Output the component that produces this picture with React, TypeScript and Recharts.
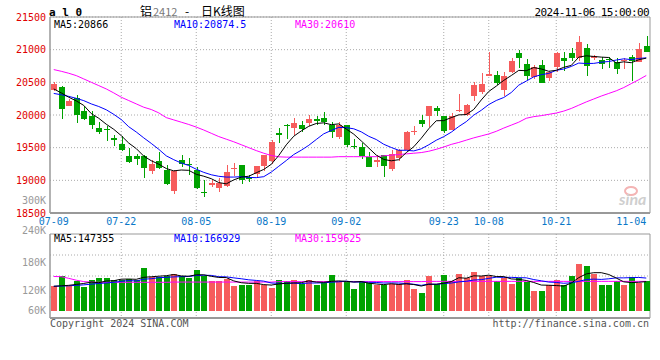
import {
  ComposedChart,
  Bar,
  Line,
  XAxis,
  YAxis,
  CartesianGrid,
  ReferenceArea,
  ReferenceLine,
} from 'recharts';

// trading days (MM-DD), 2024-07-09 .. 2024-11-06
const dates = [
  '07-09', '07-10', '07-11', '07-12', '07-15', '07-16', '07-17', '07-18', '07-19', '07-22',
  '07-23', '07-24', '07-25', '07-26', '07-29', '07-30', '07-31', '08-01', '08-02', '08-05',
  '08-06', '08-07', '08-08', '08-09', '08-12', '08-13', '08-14', '08-15', '08-16', '08-19',
  '08-20', '08-21', '08-22', '08-23', '08-26', '08-27', '08-28', '08-29', '08-30', '09-02',
  '09-03', '09-04', '09-05', '09-06', '09-09', '09-10', '09-11', '09-12', '09-13', '09-18',
  '09-19', '09-20', '09-23', '09-24', '09-25', '09-26', '09-27', '09-30', '10-08', '10-09',
  '10-10', '10-11', '10-14', '10-15', '10-16', '10-17', '10-18', '10-21', '10-22', '10-23',
  '10-24', '10-25', '10-28', '10-29', '10-30', '10-31', '11-01', '11-04', '11-05', '11-06',
];
const dateLabels = ['07-09', '07-22', '08-05', '08-19', '09-02', '09-23', '10-08', '10-21', '11-04'];
const gridDates = ['07-22', '08-05', '08-19', '09-02', '09-23', '10-08', '10-21'];

const opens = [
  20380, 20435, 20145, 20262, 20058, 19992, 19804, 19789, 19646, 19560,
  19366, 19366, 19366, 19142, 19295, 19152, 18832, 19305, 19254, 19152,
  18822, 18933, 18888, 18908, 19178, 19229, 19051, 19101, 19213, 19290,
  19727, 19850, 19799, 19850, 19880, 19941, 19956, 19850, 19656, 19850,
  19524, 19509, 19356, 19280, 19381, 19178, 19341, 19458, 19748, 19916,
  19992, 20109, 19992, 19778, 20068, 20002, 20287, 20348, 20603, 20613,
  20389, 20654, 20949, 20781, 20578, 20766, 20562, 20741, 20868, 20949,
  20868, 21020, 20873, 20847, 20857, 20806, 20822, 20883, 20806, 21051,
];
const highs = [
  20500, 20450, 20250, 20308, 20135, 20068, 19890, 19829, 19697, 19677,
  19493, 19407, 19392, 19305, 19432, 19229, 19152, 19392, 19341, 19203,
  19000, 19000, 19035, 19239, 19264, 19229, 19086, 19224, 19392, 19610,
  19799, 19865, 19951, 19901, 20002, 19992, 20043, 19890, 19890, 19850,
  19626, 19575, 19432, 19392, 19381, 19458, 19480, 19758, 19829, 20002,
  20135, 20135, 19992, 20028, 20323, 20170, 20501, 20644, 20959, 20679,
  20664, 20868, 20995, 20857, 20766, 20842, 20679, 20959, 20959, 21020,
  21203, 21087, 20919, 20883, 20883, 20868, 20868, 20919, 21102, 21214,
];
const lows = [
  20370, 19941, 20140, 19880, 19931, 19789, 19712, 19600, 19519, 19453,
  19269, 19229, 19035, 19091, 19178, 18923, 18786, 19203, 19076, 18872,
  18745, 18898, 18822, 18898, 19066, 18939, 18974, 19035, 19142, 19254,
  19575, 19636, 19697, 19738, 19829, 19850, 19850, 19646, 19626, 19509,
  19483, 19320, 19198, 19203, 19051, 19142, 19300, 19458, 19697, 19814,
  19814, 19992, 19728, 19778, 20053, 19992, 20221, 20318, 20593, 20460,
  20298, 20644, 20720, 20542, 20552, 20486, 20527, 20654, 20679, 20832,
  20832, 20603, 20847, 20705, 20715, 20628, 20705, 20527, 20806, 20959,
];
const closes = [
  20476, 20094, 20221, 20002, 19941, 19850, 19738, 19763, 19611, 19458,
  19280, 19320, 19188, 19254, 19193, 18949, 19142, 19254, 19229, 18888,
  18801, 18954, 18959, 19127, 19193, 19010, 19025, 19224, 19381, 19585,
  19687, 19840, 19880, 19789, 19941, 19901, 19890, 19738, 19850, 19544,
  19514, 19371, 19198, 19305, 19213, 19407, 19458, 19738, 19753, 19865,
  20135, 20068, 19748, 19982, 20079, 20155, 20460, 20476, 20628, 20491,
  20593, 20832, 20873, 20603, 20730, 20486, 20654, 20949, 20832, 20873,
  21122, 20756, 20898, 20781, 20842, 20705, 20842, 20832, 21010, 20959,
];
const ma5 = [
  20399, 20338, 20272, 20216, 20147, 20022, 19950, 19859, 19781, 19684,
  19570, 19486, 19371, 19300, 19247, 19181, 19145, 19158, 19153, 19092,
  19063, 19025, 18966, 18946, 19007, 19049, 19063, 19116, 19167, 19245,
  19380, 19543, 19675, 19756, 19827, 19870, 19880, 19852, 19864, 19785,
  19707, 19603, 19495, 19386, 19320, 19299, 19316, 19424, 19514, 19644,
  19790, 19912, 19914, 19960, 20002, 20006, 20085, 20230, 20360, 20442,
  20530, 20604, 20683, 20678, 20726, 20705, 20669, 20684, 20730, 20759,
  20886, 20906, 20896, 20886, 20880, 20796, 20814, 20800, 20846, 20870,
];
const ma10 = [
  20330, 20310, 20285, 20255, 20220, 20170, 20130, 20080, 20010, 19930,
  19820, 19740, 19650, 19565, 19475, 19375, 19316, 19265, 19227, 19170,
  19122, 19085, 19062, 19050, 19050, 19056, 19044, 19041, 19056, 19126,
  19215, 19303, 19395, 19461, 19536, 19625, 19712, 19763, 19810, 19806,
  19789, 19742, 19674, 19625, 19552, 19503, 19460, 19460, 19450, 19482,
  19544, 19614, 19669, 19737, 19823, 19898, 19998, 20072, 20160, 20222,
  20268, 20344, 20457, 20519, 20584, 20617, 20637, 20684, 20704, 20743,
  20795, 20788, 20790, 20808, 20819, 20841, 20860, 20848, 20866, 20875,
];
const ma30 = [
  20695, 20669, 20639, 20603, 20552, 20501, 20450, 20399, 20338, 20272,
  20221, 20170, 20119, 20084, 20033, 19960, 19925, 19890, 19855, 19815,
  19770, 19720, 19670, 19630, 19590, 19545, 19500, 19455, 19415, 19380,
  19360, 19355, 19355, 19355, 19355, 19355, 19355, 19355, 19362, 19362,
  19362, 19362, 19362, 19362, 19375, 19385, 19395, 19405, 19415, 19425,
  19445, 19475, 19510, 19550, 19580, 19615, 19650, 19680, 19710, 19750,
  19800, 19845, 19890, 19950, 19975, 19990, 20010, 20030, 20060, 20100,
  20150, 20200, 20245, 20290, 20330, 20370, 20420, 20480, 20540, 20605,
];

const volumes = [
  127700, 150600, 127700, 138400, 125600, 142000, 144900, 144900, 142000, 142000,
  143600, 142000, 166300, 147900, 147900, 149200, 154900, 150600, 144900, 163500,
  149200, 138400, 138400, 143600, 127700, 129900, 131400, 138400, 129900, 123400,
  142000, 138400, 142000, 132900, 142000, 129900, 135000, 152800, 138000, 137000,
  122800, 140000, 135000, 129900, 129900, 132000, 132000, 142000, 122800, 113600,
  150600, 132900, 152800, 140000, 154900, 145700, 158500, 150600, 149200, 140000,
  145700, 133500, 145700, 137000, 118500, 118500, 131400, 142000, 131400, 150600,
  176400, 172100, 154900, 131400, 131400, 138400, 131400, 147000, 135000, 138400,
];
const volMa5 = [
  128000, 129000, 130000, 132000, 134000, 136900, 135700, 139200, 139900, 143200,
  143500, 142900, 147200, 148400, 149500, 150700, 153200, 150100, 149500, 152600,
  152600, 149300, 146900, 146600, 139500, 135600, 134200, 134200, 131500, 130600,
  133000, 134400, 135100, 135700, 139500, 137000, 136400, 138500, 139500, 138500,
  137100, 138100, 134600, 132900, 131500, 133400, 131800, 133200, 131700, 128500,
  132200, 132400, 134500, 138000, 146200, 145300, 150400, 149900, 151800, 148800,
  148800, 143800, 142800, 140400, 136100, 130600, 130200, 129500, 128400, 134800,
  146400, 154500, 157100, 157100, 153200, 145600, 137500, 135900, 136600, 138000,
];
const volMa10 = [
  128000, 128500, 129000, 130000, 131000, 132500, 134000, 135000, 136500, 138600,
  140200, 139300, 143200, 144100, 146400, 147100, 148100, 148600, 148900, 151100,
  151600, 151300, 148500, 148100, 146000, 144100, 141800, 140500, 139000, 135000,
  134300, 134300, 134700, 133600, 135000, 135000, 135400, 136800, 137600, 139000,
  137100, 137200, 136500, 136200, 135000, 135200, 134900, 133900, 132300, 130000,
  132800, 132100, 133900, 134900, 137400, 138700, 141400, 142200, 144900, 147500,
  147000, 147100, 146400, 146100, 142400, 139700, 137000, 136200, 134400, 135400,
  138500, 142400, 143300, 142700, 144000, 146000, 146000, 146500, 146900, 145600,
];
const volMa30 = [
  149000, 148500, 145000, 141000, 138000, 137000, 136500, 136500, 136500, 136500,
  136500, 136500, 136500, 136500, 136500, 136500, 137000, 137000, 137000, 137000,
  137000, 137000, 137000, 137000, 137000, 137000, 137000, 137000, 137000, 137000,
  138000, 138000, 138000, 138000, 138000, 138000, 138000, 138000, 138000, 138000,
  138000, 138000, 138000, 138000, 138000, 138000, 138000, 138000, 138000, 138000,
  138500, 138500, 138500, 138500, 138500, 138500, 138500, 138500, 138500, 138500,
  138500, 138500, 138500, 138500, 138500, 138500, 138500, 138500, 138500, 138500,
  138500, 138500, 138500, 138500, 138500, 138500, 138500, 138500, 138500, 138500,
];

const priceTicks = [18500, 19000, 19500, 20000, 20500, 21000, 21500];
const volTicks = [60000, 120000, 180000, 240000];
const volGridValues = [105000, 150000, 195000];
const VOL_BASE = 75000;

const priceLegend = [
  { name: 'MA5', value: '20866', color: '#000000' },
  { name: 'MA10', value: '20874.5', color: '#0000ff' },
  { name: 'MA30', value: '20610', color: '#ff00ff' },
];
const volLegend = [
  { name: 'MA5', value: '147355', color: '#000000' },
  { name: 'MA10', value: '166929', color: '#0000ff' },
  { name: 'MA30', value: '159625', color: '#ff00ff' },
];
const legendX = [54, 174, 295];

const RED = '#f65c5c';
const GREEN = '#00a200';
const GRID = '#aaaaaa';
const FRAME = '#999999';
const MONO = '"DejaVu Sans Mono", "Liberation Mono", monospace';

const data = dates.map((date, i) => ({
  date,
  open: opens[i],
  high: highs[i],
  low: lows[i],
  close: closes[i],
  ma5: ma5[i],
  ma10: ma10[i],
  ma30: ma30[i],
  vol: volumes[i],
  volMa5: volMa5[i],
  volMa10: volMa10[i],
  volMa30: volMa30[i],
}));

function Candle(props: any) {
  const { x, y, width, height, payload } = props;
  if (x == null || payload == null) return null;
  const color = payload.close >= payload.open ? RED : GREEN;
  const top = Math.min(y, y + height);
  const h = Math.abs(height);
  const span = payload.high - payload.low || 1;
  const py = (v: number) => top + ((payload.high - v) / span) * h;
  const bx = Math.round(x);
  const bw = Math.round(width);
  const bodyTop = Math.round(py(Math.max(payload.open, payload.close)));
  const bodyBot = Math.round(py(Math.min(payload.open, payload.close)));
  const wx = bx + Math.floor(bw / 2) + 0.5;
  return (
    <g>
      <line x1={wx} x2={wx} y1={Math.round(top)} y2={Math.round(top + h)} stroke={color} strokeWidth={1} />
      <rect x={bx} y={bodyTop} width={bw} height={Math.max(1, bodyBot - bodyTop)} fill={color} />
    </g>
  );
}

function VolBar(props: any) {
  const { x, y, width, height, payload } = props;
  if (x == null || payload == null) return null;
  const color = payload.close >= payload.open ? RED : GREEN;
  const top = Math.round(Math.min(y, y + height));
  const bot = Math.round(Math.max(y, y + height));
  return <rect x={Math.round(x)} y={top} width={Math.round(width)} height={bot - top} fill={color} />;
}

function VolTick(props: any) {
  const { x, y, payload } = props;
  const v = payload.value;
  const shift = v === volTicks[volTicks.length - 1] ? -3.5 : v === volTicks[0] ? -7.5 : 0;
  return (
    <text x={x} y={y + shift} dy="0.36em" textAnchor="end" fill="#999999" fontSize={10} fontFamily={MONO}>
      {`${v / 1000}K`}
    </text>
  );
}

const lineProps = {
  type: 'linear' as const,
  strokeWidth: 1,
  dot: false,
  activeDot: false,
  isAnimationActive: false,
};

export default function App() {
  return (
    <div style={{ position: 'absolute', left: 0, top: 0, width: 660, height: 360, background: '#fff' }}>
      <div style={{ position: 'absolute', left: 0, top: 0 }}>
        <ComposedChart width={660} height={230} data={data} margin={{ top: 17, right: 10, bottom: 0, left: 0 }} barSize={6}>
          <CartesianGrid verticalValues={gridDates} stroke={GRID} strokeDasharray="1 2" />
          <XAxis
            dataKey="date"
            ticks={dateLabels}
            interval={0}
            height={17}
            tickSize={0}
            tickMargin={5}
            axisLine={{ stroke: FRAME, strokeWidth: 2 }}
            tick={{ fill: '#0a78c8', fontSize: 10, fontFamily: MONO }}
          />
          <YAxis
            domain={[18500, 21500]}
            ticks={priceTicks}
            interval={0}
            width={50}
            tickSize={0}
            tickMargin={4}
            axisLine={{ stroke: FRAME }}
            tick={{ fill: '#e00000', fontSize: 10, fontFamily: MONO }}
          />
          <ReferenceArea y1={18500} y2={21500} fill="none" stroke={FRAME} strokeWidth={1} ifOverflow="visible" />
          <Bar dataKey={(d: any) => [d.low, d.high]} shape={(p: any) => <Candle {...p} />} isAnimationActive={false} />
          <Line dataKey="ma30" stroke="#ff00ff" {...lineProps} />
          <Line dataKey="ma10" stroke="#0000ff" {...lineProps} />
          <Line dataKey="ma5" stroke="#000000" {...lineProps} />
        </ComposedChart>
      </div>
      <div style={{ position: 'absolute', left: 0, top: 224 }}>
        <ComposedChart width={660} height={96} data={data} margin={{ top: 10, right: 10, bottom: 2, left: 0 }} barSize={6}>
          <CartesianGrid horizontalValues={volGridValues} verticalValues={gridDates} stroke={GRID} strokeDasharray="1 2" />
          <XAxis dataKey="date" hide />
          <YAxis
            domain={[60000, 240000]}
            ticks={volTicks}
            interval={0}
            width={50}
            tickSize={0}
            tickMargin={4}
            axisLine={{ stroke: FRAME }}
            tick={(p: any) => <VolTick {...p} />}
          />
          <ReferenceArea y1={60000} y2={240000} fill="none" stroke={FRAME} strokeWidth={1} ifOverflow="visible" />
          <ReferenceLine y={60000} stroke={FRAME} strokeWidth={2} />
          <Bar dataKey={(d: any) => [VOL_BASE, d.vol]} shape={(p: any) => <VolBar {...p} />} isAnimationActive={false} />
          <Line dataKey="volMa30" stroke="#ff00ff" {...lineProps} />
          <Line dataKey="volMa10" stroke="#0000ff" {...lineProps} />
          <Line dataKey="volMa5" stroke="#000000" {...lineProps} />
        </ComposedChart>
      </div>
      <svg width={660} height={360} style={{ position: 'absolute', left: 0, top: 0, pointerEvents: 'none' }}>
        <text x={49} y={15.5} fontSize={11} fontWeight="bold" fontFamily={MONO} fill="#000">a l 0</text>
        <text y={15.5} fontSize={12} fontFamily='"Noto Sans CJK SC", sans-serif'>
          <tspan x={140} fill="#000">铝</tspan>
          <tspan x={153} fill="#777" fontSize={11}>2412</tspan>
          <tspan x={185} fill="#000">-</tspan>
          <tspan x={201} fill="#000">日K线图</tspan>
        </text>
        <text x={649} y={15.5} fontSize={11} letterSpacing={-0.6} textAnchor="end" fontFamily={MONO} fill="#000">
          2024-11-06 15:00:00
        </text>
        {priceLegend.map((m, i) => (
          <text key={m.name} x={legendX[i]} y={27.5} fontSize={10} fontFamily={MONO} fill={m.color}>
            {`${m.name}:${m.value}`}
          </text>
        ))}
        {volLegend.map((m, i) => (
          <text key={m.name} x={legendX[i]} y={242} fontSize={10} fontFamily={MONO} fill={m.color}>
            {`${m.name}:${m.value}`}
          </text>
        ))}
        <text x={46} y={203.5} fontSize={10} textAnchor="end" fontFamily={MONO} fill="#999">300K</text>
        <text x={50} y={327} fontSize={10} fontFamily={MONO} fill="#555">Copyright 2024 SINA.COM</text>
        <text x={649} y={327} fontSize={10} textAnchor="end" fontFamily={MONO} fill="#555">
          http://finance.sina.com.cn
        </text>
        <ellipse cx={631} cy={191} rx={6} ry={4} fill="none" stroke="#f4b4b4" strokeWidth={2} />
        <text x={619} y={205} fontSize={16} fontStyle="italic" fontWeight="bold" fontFamily="Lato, sans-serif" fill="#cfcfcf">
          sina
        </text>
      </svg>
    </div>
  );
}
